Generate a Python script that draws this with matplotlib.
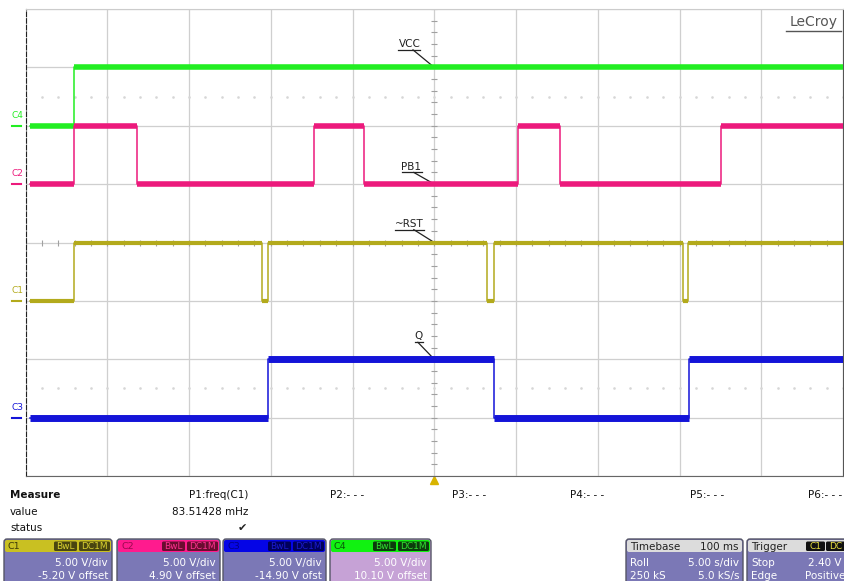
import numpy as np
import matplotlib.pyplot as plt
from matplotlib.patches import FancyBboxPatch

plt.rcParams['font.family'] = ['DejaVu Sans']

# waveform data, in screen divisions (x: 0..10 time div, y: 0..8 vertical div)
t_vcc = [0.06, 0.59, 10.0]
v_vcc = [6.0, 7.0, 7.0]
t_pb1 = [0.06, 0.59, 1.36, 3.53, 4.14, 6.03, 6.54, 8.51, 10.0]
v_pb1 = [5.0, 6.0, 5.0, 6.0, 5.0, 6.0, 5.0, 6.0, 6.0]
t_rst = [0.06, 0.59, 2.89, 2.97, 5.65, 5.73, 8.04, 8.11, 10.0]
v_rst = [3.0, 4.0, 3.0, 4.0, 3.0, 4.0, 3.0, 4.0, 4.0]
t_q = [0.06, 2.97, 5.73, 8.12, 10.0]
v_q = [1.0, 2.0, 1.0, 2.0, 2.0]

traces = [
    ('VCC', 'C4', t_vcc, v_vcc, '#22ee22', 4.0),
    ('PB1', 'C2', t_pb1, v_pb1, '#ec1a7c', 4.0),
    ('~RST', 'C1', t_rst, v_rst, '#b3aa1c', 3.0),
    ('Q', 'C3', t_q, v_q, '#1414d8', 5.0),
]

# label name, text x, baseline y, underline x0, x1, y, leader start x, target y
labels = [
    ('VCC', 4.70, 7.35, 4.56, 4.83, 7.30, 4.74, 7.0),
    ('PB1', 4.72, 5.25, 4.60, 4.85, 5.20, 4.75, 5.0),
    ('~RST', 4.70, 4.27, 4.52, 4.87, 4.22, 4.75, 4.0),
    ('Q', 4.81, 2.34, 4.76, 4.86, 2.29, 4.80, 2.0),
]

W, H = 844, 581
fig = plt.figure(figsize=(W / 100, H / 100), dpi=100)
fig.patch.set_facecolor('white')

ax = fig.add_axes([25.5 / W, 1 - 476 / H, 817.5 / W, 467 / H])
ax.set_xlim(0, 10)
ax.set_ylim(0, 8)
ax.set_xticks(range(11))
ax.set_yticks(range(9))
ax.tick_params(length=0, labelbottom=False, labelleft=False)
ax.grid(True, color='#cfcfcf', lw=0.9)
ax.spines['left'].set_linestyle((0, (4, 2)))
ax.spines['left'].set_color('#222222')
ax.spines['bottom'].set_color('#666666')
ax.spines['right'].set_color('#555555')
ax.spines['top'].set_color('#cccccc')

# center crosshair ticks and dotted half rows
sub = np.arange(0, 10.01, 0.2)
ax.plot(np.full(41, 5.0), np.arange(0, 8.01, 0.2), ls='none', marker='_', ms=4,
        color='#a0a0a0', mew=0.8)
ax.plot(sub, np.full(len(sub), 4.0), ls='none', marker='|', ms=4, color='#a0a0a0', mew=0.8)
for yd in [6.5, 1.5]:
    ax.plot(sub, np.full(len(sub), yd), ls='none', marker='s', ms=0.8, color='#d6d6d6')

for name, ch, t, v, col, lw in traces:
    ax.step(t, v, where='post', color=col, lw=1.1, zorder=3)
    ax.hlines(v[:-1], t[:-1], t[1:], colors=col, lw=lw, zorder=3)
    ax.text(-0.10, v[0] + 0.10, ch, color=col, fontsize=6.5, ha='center', va='bottom',
            clip_on=False)
    ax.plot([-0.16, -0.05], [v[0], v[0]], color=col, lw=1.5, clip_on=False)

for name, tx, ty, x0, x1, yu, lx, yt in labels:
    ax.text(tx, ty, name, fontsize=7.5, color='#222222', ha='center', va='baseline')
    ax.plot([x0, x1], [yu, yu], color='#222222', lw=0.9)
    ax.plot([lx, 5.0], [yu, yt], color='#222222', lw=0.9)

ax.plot(5.0, -0.06, marker='^', ms=6, color='#d8b400', clip_on=False)

ax.text(9.94, 7.78, 'LeCroy', fontsize=10, color='#555555', ha='right', va='center')
ax.plot([9.3, 9.97], [7.63, 7.63], color='#555555', lw=1.0)

# bottom info panel in pixel coordinates
pan = fig.add_axes([0, 0, 1, 1])
pan.set_xlim(0, W)
pan.set_ylim(H, 0)
pan.axis('off')

fs = 7.5
pan.text(10, 495, 'Measure', fontsize=fs, fontweight='bold', va='center', color='#111111')
pan.text(10, 512, 'value', fontsize=fs, va='center', color='#111111')
pan.text(10, 528, 'status', fontsize=fs, va='center', color='#111111')
pan.text(248, 495, 'P1:freq(C1)', fontsize=fs, va='center', ha='right', color='#111111')
pan.text(248, 512, '83.51428 mHz', fontsize=fs, va='center', ha='right', color='#111111')
pan.text(242, 528, '\u2714', fontsize=8, va='center', ha='center', color='#222222')
for i, xp in enumerate([330, 452, 570, 690, 808]):
    pan.text(xp, 495, 'P%d:- - -' % (i + 2), fontsize=fs, va='center', color='#111111')

body = '#7b78b6'


def box(x0, x1, head_col, body_col):
    pan.add_patch(FancyBboxPatch((x0, 539), x1 - x0, 50, boxstyle='round,pad=0,rounding_size=3',
                                 fc=body_col, ec='#555566', lw=1.0))
    pan.add_patch(FancyBboxPatch((x0 + 1, 540), x1 - x0 - 2, 12,
                                 boxstyle='round,pad=0,rounding_size=2', fc=head_col, ec='none'))


def tag(x0, x1, txt, fc, tc):
    pan.add_patch(FancyBboxPatch((x0, 541.5), x1 - x0, 9.5, boxstyle='round,pad=0,rounding_size=1.5',
                                 fc=fc, ec='none'))
    pan.text((x0 + x1) / 2, 546.5, txt, fontsize=6.5, color=tc, ha='center', va='center')


channels = [
    ('C1', 4, 112, '#c9c022', '#3e3a08', '#4a4610', '#d8d030', body, '-5.20 V offset'),
    ('C2', 117, 220, '#ff1b8e', '#9a0a50', '#6a0c30', '#ff3090', body, '4.90 V offset'),
    ('C3', 223, 326, '#0505e6', '#00008a', '#00005a', '#1a1ad0', body, '-14.90 V ofst'),
    ('C4', 330, 431, '#11f211', '#0a5a0a', '#0c3c0c', '#30e030', '#c6a2d6', '10.10 V offset'),
]
for ch, x0, x1, hc, chc, tagc, tagt, bc, off in channels:
    box(x0, x1, hc, bc)
    pan.text(x0 + 4, 546.5, ch, fontsize=6.8, color=chc, va='center')
    tag(x1 - 58, x1 - 35, 'BwL', tagc, tagt)
    tag(x1 - 33, x1 - 2, 'DC1M', tagc, tagt)
    pan.text(x1 - 4, 563, '5.00 V/div', fontsize=fs, color='white', ha='right', va='center')
    pan.text(x1 - 4, 576, off, fontsize=fs, color='white', ha='right', va='center')

box(626, 743, '#dcdcdc', body)
pan.text(630, 546.5, 'Timebase', fontsize=fs, color='#222222', va='center')
pan.text(739, 546.5, '100 ms', fontsize=fs, color='#222222', va='center', ha='right')
pan.text(630, 563, 'Roll', fontsize=fs, color='white', va='center')
pan.text(739, 563, '5.00 s/div', fontsize=fs, color='white', va='center', ha='right')
pan.text(630, 576, '250 kS', fontsize=fs, color='white', va='center')
pan.text(739, 576, '5.0 kS/s', fontsize=fs, color='white', va='center', ha='right')

box(747, 852, '#dcdcdc', body)
pan.text(751, 546.5, 'Trigger', fontsize=fs, color='#222222', va='center')
tag(806, 825, 'C1', '#111111', '#e8e040')
tag(826, 846, 'DC', '#111111', '#e8e040')
pan.text(841, 563, '2.40 V', fontsize=fs, color='white', va='center', ha='right')
pan.text(751, 563, 'Stop', fontsize=fs, color='white', va='center')
pan.text(751, 576, 'Edge', fontsize=fs, color='white', va='center')
pan.text(845, 576, 'Positive', fontsize=fs, color='white', va='center', ha='right')

fig.savefig('out.png', dpi=100)
